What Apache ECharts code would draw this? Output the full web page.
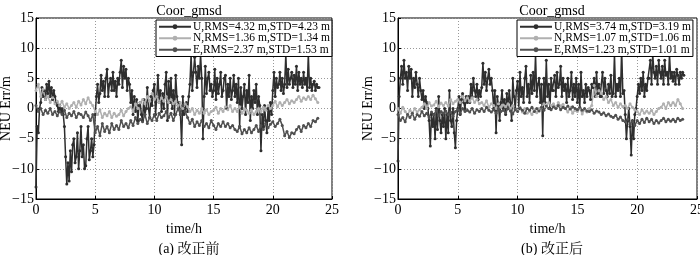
<!DOCTYPE html>
<html>
<head>
<meta charset="utf-8">
<script src="https://cdn.jsdelivr.net/npm/echarts@6/dist/echarts.min.js"></script>
<style>
html,body{margin:0;padding:0;background:#fff;}
#main{width:700px;height:255px;}
</style>
</head>
<body>
<div id="main"></div>
<script>
// U sampled 10 points per hour, N and E 5 points per hour
var stepU = 0.1, stepNE = 0.2;

// (a) before correction
var uA = [-13,-3,-4,0,1,3.5,2,3,1.5,4, 2.5,4.5,2,3.5,1.5,3,2,1,0.5,-0.5,
  0.5,-0.5,0,-1,-3,-8,-12.5,-9,-12,-7, -10.5,-6,-5,-9,-8,-4,-10,-7,-3,-8,
  -6,-10,-9.5,-5,-3,-8.5,-7,-5,-8,-6, -1,2,4,1,2.5,5.5,3,4.5,2,5,
  6.5,2,4,5,3,6,3,4.5,2,5, 4,6,8,3.5,7,5,6.5,3,5,4,
  1,3,-1,2,-0.5,1.5,-2,0.5,1,-1, -2,1.5,-1,0,3.5,0,-1.5,2,0.5,3,
  4,-1,2,5.5,1,3,-0.5,2.5,0,4, 6,-2,4.5,1,5,0,3,-1,5.5,2,
  0.5,1,-1,-6,2,-1,0,1,-0.5,2, 4,9,3,6,8.5,6,3.5,7,5,9,
  5,-5,2,7,2.5,5,6,3,4,2, 3,6.5,1.5,5,2.5,4,6,2,3,5,
  5.5,0,4,2,5,1.5,3,5.5,2,4, 1,5,-3,3.5,0,2,4,-1,3,1,
  5.5,-2,2,0,3,1,4,-1,2,0.5, -7,-1,-3,0.5,-2,-4,0,-2,1,-1,
  3,6,2,5,3.5,4,6,3,5,2.5, 4,9,3.5,6.5,4,5,6,3.5,5.5,4,
  7,3,6,4,5,3.5,6,4,5,3, 9,3.5,5,3,4,4.5,3,4,3.5,3.5];
var nA = [3,4,2,3.2,1.5, 2,1,1.8,0.8,1.2, 0.5,1.2,0.2,0.8,0, 0.5,1,0.2,1.2,0.6,
  1.5,0.8,1.8,1,0.5, -0.5,-1,-0.2,-1.5,-0.8, -1.2,-0.5,-1.5,-0.8,-1.3, -1,-0.3,-1.2,-0.5,0,
  0.3,-0.5,0.8,0,1, 1.5,0.8,2,1.2,2.5, 1.5,2,1,1.8,1.2, 2,1,1.5,0.8,1.2,
  0.5,1,0,0.8,0.3, -0.5,0,-1,-0.3,-0.8, 0,-0.8,-0.2,-1,-0.5, -0.3,0.2,-0.8,0,-0.5,
  0.3,-0.2,0.5,-0.5,0, -0.5,0.3,-0.8,0,-0.3, -0.8,-0.2,-1,-0.5,0, -0.5,0.2,-0.3,0.5,0,
  0.5,1.2,0.3,1,0.5, 1,1.5,0.8,1.3,1, 1.5,2,1.2,1.8,1.5, 2,1.5,2.2,1.6,1];
var eA = [0.5,-0.5,0,-1,-0.3, -0.8,0,-1,-0.5,-1.2, -0.5,-1,-0.3,-1.5,-0.8, -1.2,-0.5,-1.5,-0.8,-1,
  -1.5,-0.6,-1.2,-2,-1, -4,-3,-4.5,-2.5,-3.8, -3,-4,-2.5,-3.5,-2.8, -3.5,-2,-3,-2.5,-3.2,
  -2,-2.8,-1.5,-2.5,-1.8, -2.2,-1,-2.5,-1.5,-2, -1,-2,-0.8,-1.5,-1.2, -0.5,-1.5,-0.8,-2,-1,
  0,-1,0.5,-0.5,-1.5, -2.5,-1.8,-3,-2.2,-2.8, -2,-3,-2.5,-3.2,-2, -2.8,-3.5,-2.5,-3,-2.2,
  -3,-2.5,-3.2,-2.8,-3.5, -3.8,-3,-4.2,-3.5,-4, -3.2,-4,-3.5,-2.8,-3.8, -2.8,-3.5,-2.5,-3.2,-2.6,
  -2.2,-3,-2.5,-1.8,-2.8, -4.5,-3.8,-4.8,-4,-4.2, -3.5,-3,-3.8,-2.8,-3.2, -2.5,-3,-2,-2.2,-1.6];

// (b) after correction
var uB = [-8.7,2,5,7,4,8,5,6,3,7, 5,6.5,2,5,3.5,6,4,2,5,3,
  1.5,3,0,2,1,0,-2,-6.2,-1,-3, -1,-5,0,-3.5,2,-2,-4,-1,-3,0,
  -5,-1,-4,3,-2,-3,0,-4,-6.5,-2, 0,2,-1,1.5,2.5,1,0,2,1,2,
  1,4,2,5,3,2,4,1.5,3,2, 3.5,7.5,4,6,3,5,6.5,4,5,3,
  0,3,-4,2,0.5,-2,1,3,0,1.5, -1,2.5,0,3,1,-2,5,2,0,3,
  4.5,0,6,2,3.5,1,5,7,2,4, 1,5.5,2.5,6,3,9,2,4,5,1,
  4,-4.5,5,1,8,2,4,0,5,3, 3,5.5,2,6,3.5,4,7,2,5,3,
  4,1,5,2,3,6,1.5,4,2,5, 1,4,0,6,2,3,1,4,2,3.5,
  3,1.5,4,3.5,5,2,6,2.5,4,2, 2,6,2.5,5,3,2,4,2.5,5.5,2,
  2.5,9,2,4,3,5,2,10,2.5,3, -1,-5,-2,0,-3,-7.7,-2,-5,-1,0,
  2,4,2.5,5,3,6,2,4,3,5, 5,8,4,9,6,5,7,4,8,6,
  5,7,4,8,5.5,6,4,9,5,6, 4.5,6,4,6.5,5.5,4,6,5,6,5.5];
var nB = [0,-0.8,0.2,-0.5,-1, -0.3,-0.8,0,-0.6,-0.2, 0.2,0.8,0,1,0.4, 0.6,1.2,0.3,0.9,0.5,
  1,0.4,1.5,0.8,1.2, 1.5,1,2,1.3,1.8, 1.2,1.8,1,1.5,0.8, 1,0.5,1.3,0.2,0.8,
  0.5,0,0.8,0.2,0.6, 0.3,0.8,0,0.5,-0.2, -0.3,0.2,-0.6,0,-0.8, -0.5,-1,-0.2,-0.7,0,
  0.2,0.8,0.3,1,0.5, 0.8,0.2,1,0.4,0.7, 0,-0.6,0.2,-0.8,-0.3, -0.5,0,-0.9,-0.2,-0.6,
  0,0.5,3.8,2,3, 2.5,1.5,2,1,1.5, 0.5,1,0.2,0.8,0.3, 0.5,0,0.8,0.2,-0.2,
  -0.5,-1,-0.2,-0.8,-0.4, -0.8,-0.3,-1,-0.5,0, 0.2,0.8,0,1,0.5, 1,0.5,1.5,0.8,0];
var eB = [-1,-2,-1.5,-2.2,-1, -1.5,-0.8,-1.8,-1,-1.3, -0.5,-1.2,-0.8,-1.5,-0.6, -1,-0.3,-1.2,-0.5,-0.8,
  -0.4,-1,-0.6,-1.3,-0.5, -0.2,-0.8,0,-0.5,-0.3, -0.6,0,-0.8,-0.2,-0.5, 0,-0.5,0.2,-0.3,-0.6,
  -0.2,-0.8,0,-0.5,-0.3, -0.7,0,-0.4,-0.9,-0.2, -0.5,0.1,-0.3,-0.8,0, -0.3,0.2,-0.5,0,-0.4,
  0.2,-0.3,0.4,0,-0.2, 0.3,0,0.5,-0.2,0.2, 0,0.4,-0.1,0.3,0, -0.2,0.2,-0.3,0,-0.4,
  -0.5,-0.2,-0.8,-0.4,-0.6, -1,-0.7,-1.2,-0.9,-1.3, -1.5,-1.1,-1.8,-1.4,-2, -2.2,-1.8,-2.6,-2.1,-2.8,
  -2,-2.5,-1.8,-2.3,-1.6, -2.2,-1.8,-2.5,-2,-2.4, -2,-1.6,-2.2,-1.8,-2.1, -1.8,-2.2,-1.6,-2,-1.8];

var legA = ['U,RMS=4.32 m,STD=4.23 m', 'N,RMS=1.36 m,STD=1.34 m', 'E,RMS=2.37 m,STD=1.53 m'];
var legB = ['U,RMS=3.74 m,STD=3.19 m', 'N,RMS=1.07 m,STD=1.06 m', 'E,RMS=1.23 m,STD=1.01 m'];
var captions = ['(a) 改正前', '(b) 改正后'];

var colU = '#2e2e2e', colN = '#b0b0b0', colE = '#505050';
var font = '"Liberation Serif", "Noto Serif CJK SC", "Noto Sans CJK SC", serif';

function pairs(arr, step){
	return arr.map(function(v, i){ return [+(i * step).toFixed(1), v]; });
}

function mkX(idx){
	return {
		gridIndex: idx, type: 'value', min: 0, max: 25, interval: 5,
		name: 'time/h', nameLocation: 'middle', nameGap: 23, nameMoveOverlap: false,
		nameTextStyle: {color: '#000', fontFamily: font, fontSize: 14},
		axisLine: {onZero: false, lineStyle: {color: '#000'}},
		axisTick: {inside: true, length: 3, lineStyle: {color: '#000'}},
		axisLabel: {color: '#000', fontFamily: font, fontSize: 14, margin: 4},
		splitLine: {show: true, lineStyle: {color: '#999', type: [1, 2], width: 1}}
	};
}
function mkY(idx){
	return {
		gridIndex: idx, type: 'value', min: -15, max: 15, interval: 5,
		name: 'NEU Err/m', nameLocation: 'middle', nameGap: 23, nameMoveOverlap: false,
		nameTextStyle: {color: '#000', fontFamily: font, fontSize: 14},
		axisLine: {show: true, onZero: false, lineStyle: {color: '#000'}},
		axisTick: {show: true, inside: true, length: 3, lineStyle: {color: '#000'}},
		axisLabel: {color: '#000', fontFamily: font, fontSize: 14, margin: 2,
			formatter: function(v){ return String(v).replace('-', '\u2212'); }},
		splitLine: {show: true, lineStyle: {color: '#999', type: [1, 2], width: 1}}
	};
}
function mkS(name, data, step, color, idx){
	return {
		name: name, type: 'line', xAxisIndex: idx, yAxisIndex: idx,
		data: pairs(data, step), color: color,
		symbol: 'circle', symbolSize: 3, showSymbol: true,
		lineStyle: {width: 1.5, color: color},
		itemStyle: {color: color},
		animation: false
	};
}
function mkLeg(names, left){
	return {
		data: names, left: left, top: 20, orient: 'vertical',
		itemGap: 0, itemWidth: 32, itemHeight: 6,
		padding: [1, 2, 1, 2],
		backgroundColor: '#fff', borderColor: '#000', borderWidth: 1, borderRadius: 0,
		textStyle: {color: '#000', fontFamily: font, fontSize: 11.5, lineHeight: 10, padding: [0, 0, 0, -3]},
		selectedMode: false
	};
}

var chart = echarts.init(document.getElementById('main'));
var tStyle = {fontFamily: font, fontSize: 14, fontWeight: 'normal', color: '#000'};
var option = {
	backgroundColor: '#fff',
	animation: false,
	title: [
		{text: 'Coor_gmsd', left: 184, top: -1, textAlign: 'center', textStyle: tStyle},
		{text: 'Coor_gmsd', left: 547, top: -1, textAlign: 'center', textStyle: tStyle},
		{text: captions[0], left: 184, top: 237, textAlign: 'center', textStyle: tStyle},
		{text: captions[1], left: 547, top: 237, textAlign: 'center', textStyle: tStyle}
	],
	grid: [
		{left: 36, top: 18, width: 296, height: 181, show: true, borderColor: '#000', borderWidth: 1, outerBoundsMode: 'none'},
		{left: 398, top: 18, width: 299, height: 181, show: true, borderColor: '#000', borderWidth: 1, outerBoundsMode: 'none'}
	],
	legend: [mkLeg(legA, 156), mkLeg(legB, 517)],
	xAxis: [mkX(0), mkX(1)],
	yAxis: [mkY(0), mkY(1)],
	series: [
		mkS(legA[0], uA, stepU, colU, 0),
		mkS(legA[1], nA, stepNE, colN, 0),
		mkS(legA[2], eA, stepNE, colE, 0),
		mkS(legB[0], uB, stepU, colU, 1),
		mkS(legB[1], nB, stepNE, colN, 1),
		mkS(legB[2], eB, stepNE, colE, 1)
	]
};
chart.setOption(option);
</script>
</body>
</html>
